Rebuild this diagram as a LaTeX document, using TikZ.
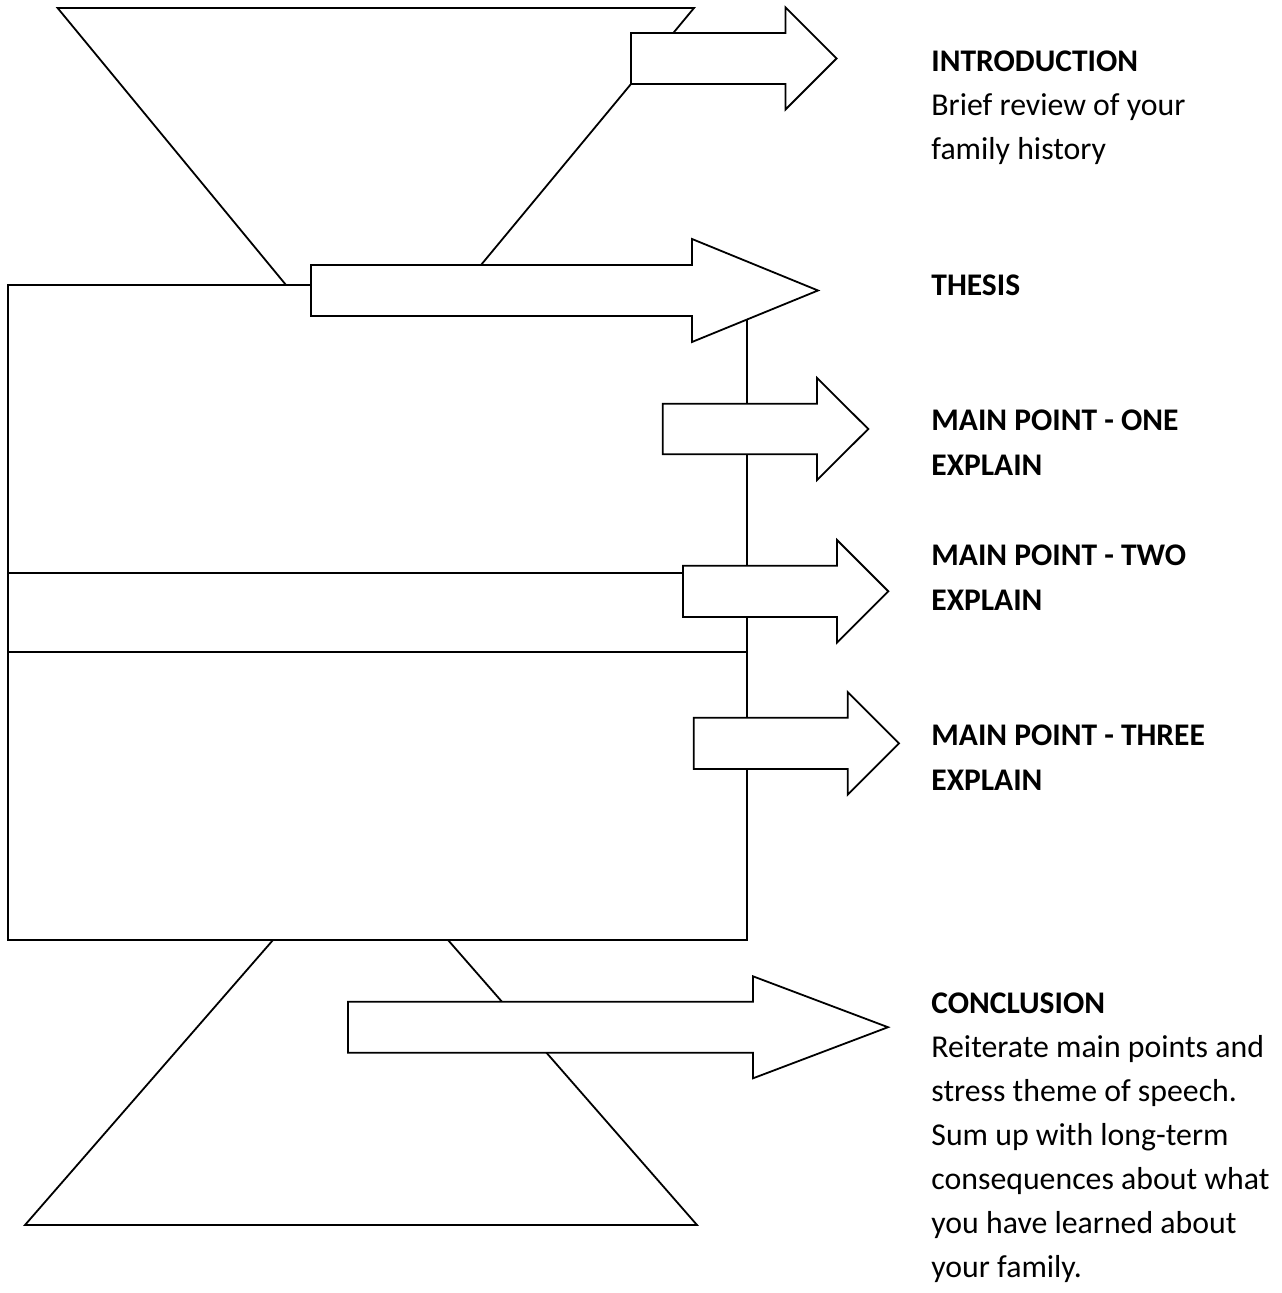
\documentclass[tikz,border=0pt]{standalone}
\usepackage{fontspec}
\setmainfont{Carlito}
\begin{document}
\begin{tikzpicture}[x=0.5pt,y=-0.5pt,
  shapeline/.style={draw=black, fill=white, line width=0.9pt, line join=miter},
  plainline/.style={draw=black, line width=0.9pt},
  lbl/.style={anchor=base west, inner sep=0pt, font=\fontsize{15.9pt}{22pt}\selectfont},
  blbl/.style={lbl, font=\fontsize{15.75pt}{22pt}\selectfont\bfseries}]
\useasboundingbox (0,0) rectangle (1281,1293);
% top funnel
\draw[shapeline] (57.6,8) -- (694,8) -- (464.4,285) -- (286,285) -- cycle;
% bottom funnel
\draw[shapeline] (273,940) -- (448,940) -- (697,1225) -- (25,1225) -- cycle;
% central block
\draw[shapeline] (8,285) rectangle (747,940);
\draw[plainline] (8,573) -- (747,573);
\draw[plainline] (8,652) -- (747,652);
% block arrows
\draw[shapeline] (311,265) -- (692,265) -- (692,239) -- (818,290.5) -- (692,342) -- (692,316) -- (311,316) -- cycle;
\draw[shapeline] (631,33) -- (785.5,33) -- (785.5,7.5) -- (836.5,58.5) -- (785.5,109.5) -- (785.5,84) -- (631,84) -- cycle;
\draw[shapeline] (662.7,403.7) -- (817,403.7) -- (817,378) -- (868.3,429) -- (817,480) -- (817,454.3) -- (662.7,454.3) -- cycle;
\draw[shapeline] (683,565.7) -- (837,565.7) -- (837,540) -- (888.3,591.3) -- (837,642.5) -- (837,617) -- (683,617) -- cycle;
\draw[shapeline] (693.7,717.7) -- (847.7,717.7) -- (847.7,692) -- (899,743.3) -- (847.7,794.7) -- (847.7,769) -- (693.7,769) -- cycle;
\draw[shapeline] (348,1001.7) -- (753,1001.7) -- (753,976.3) -- (888,1027.2) -- (753,1078.3) -- (753,1052.7) -- (348,1052.7) -- cycle;
% texts
\node[blbl] (t1) at (931,72) {INTRODUCTION};
\node[lbl] (t2) at (931,116) {Brief review of your};
\node[lbl] (t3) at (931,160) {family history};
\node[blbl] (t4) at (931,296) {THESIS};
\node[blbl] (t5) at (931,431) {MAIN POINT - ONE};
\node[blbl] (t6) at (931,475) {EXPLAIN};
\node[blbl] (t7) at (931,565) {MAIN POINT - TWO};
\node[blbl] (t8) at (931,610) {EXPLAIN};
\node[blbl] (t9) at (931,745) {MAIN POINT - THREE};
\node[blbl] (t10) at (931,790) {EXPLAIN};
\node[blbl] (t11) at (931,1013) {CONCLUSION};
\node[lbl] (t12) at (931,1057) {Reiterate main points and};
\node[lbl] (t13) at (931,1101) {stress theme of speech.};
\node[lbl] (t14) at (931,1145) {Sum up with long-term};
\node[lbl] (t15) at (931,1189) {consequences about what};
\node[lbl] (t16) at (931,1233) {you have learned about};
\node[lbl] (t17) at (931,1277) {your family.};
\end{tikzpicture}
\end{document}
